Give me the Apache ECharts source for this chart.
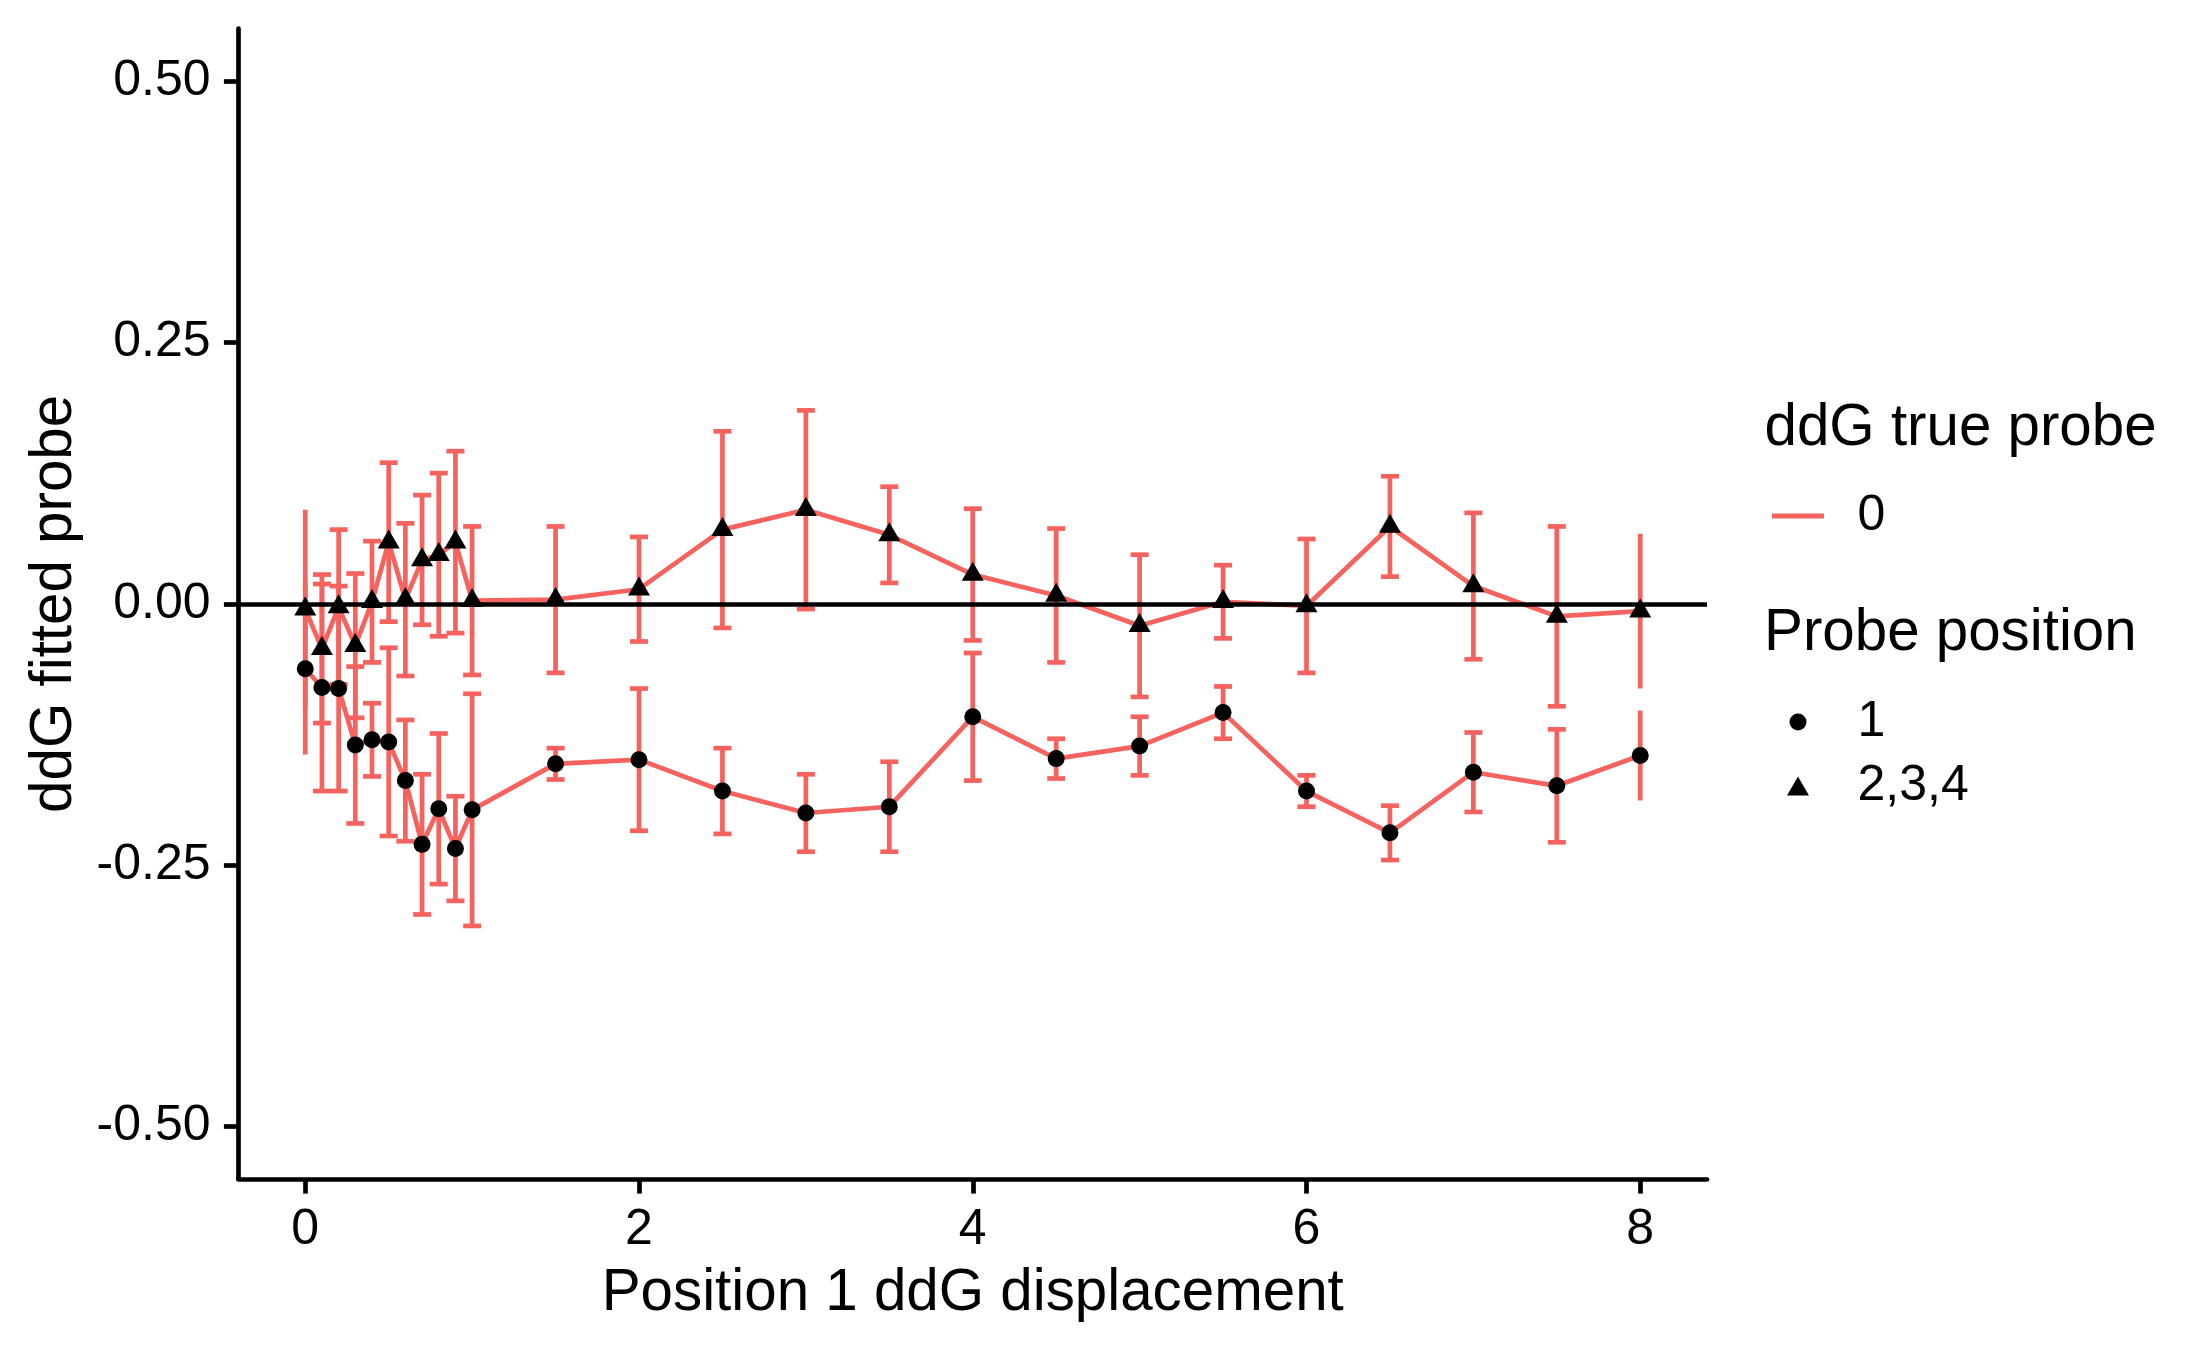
<!DOCTYPE html>
<html><head><meta charset="utf-8">
<script src="https://cdn.jsdelivr.net/npm/echarts@6/dist/echarts.min.js"></script>
<style>html,body{margin:0;padding:0;background:#fff}#c{width:2187px;height:1351px}</style>
</head><body><div id="c"></div>
<script>
// ---- data ----
const displacement = [0, 0.1, 0.2, 0.3, 0.4, 0.5, 0.6, 0.7, 0.8, 0.9, 1.0, 1.5, 2, 2.5, 3, 3.5, 4, 4.5, 5, 5.5, 6, 6.5, 7, 7.5, 8];
// Probe position 1 (circles)
const pos1Mean = [-0.062, -0.080, -0.081, -0.135, -0.130, -0.132, -0.169, -0.230, -0.196, -0.234, -0.197, -0.153, -0.149, -0.179, -0.200, -0.194, -0.108, -0.148, -0.136, -0.104, -0.179, -0.219, -0.161, -0.174, -0.145];
const pos1Err  = [0.082, 0.099, 0.098, 0.075, 0.035, 0.090, 0.058, 0.067, 0.072, 0.050, 0.111, 0.015, 0.068, 0.041, 0.037, 0.043, 0.061, 0.019, 0.028, 0.025, 0.015, 0.026, 0.038, 0.054, 0.043];
// Probe position 2,3,4 (triangles)
const pos234Mean = [-0.005, -0.043, -0.003, -0.040, 0.002, 0.059, 0.004, 0.042, 0.047, 0.059, 0.003, 0.004, 0.014, 0.071, 0.090, 0.066, 0.028, 0.008, -0.021, 0.002, -0.002, 0.074, 0.017, -0.012, -0.007];
const pos234Err  = [0.095, 0.071, 0.074, 0.069, 0.058, 0.076, 0.073, 0.062, 0.078, 0.087, 0.071, 0.070, 0.050, 0.094, 0.095, 0.046, 0.063, 0.064, 0.068, 0.035, 0.064, 0.048, 0.070, 0.086, 0.074];
const xTicks = [0, 2, 4, 6, 8];
const yTicks = [-0.5, -0.25, 0, 0.25, 0.5];
const refLineY = 0;
const trueProbeLevels = ['0'];
const probePositions = ['1', '2,3,4'];

// ---- style ----
const RED = '#F6635F';
const FONT = '"Liberation Sans", Arial, Helvetica, sans-serif';
const LW = 4.7;
const DY = 4.5; // text baseline nudge

const pts = (means) => displacement.map((x, i) => [x, means[i]]);
const bars = (means, errs) => displacement.map((x, i) => [x, means[i] - errs[i], means[i] + errs[i]]);
const xFirst = displacement[0], xLast = displacement[displacement.length - 1];

function renderBar(params, api) {
  const x = api.value(0), lo = api.value(1), hi = api.value(2);
  const top = api.coord([x, hi]);
  const bot = api.coord([x, lo]);
  const style = { stroke: RED, lineWidth: LW, fill: null };
  const children = [{ type: 'line', shape: { x1: top[0], y1: top[1], x2: bot[0], y2: bot[1] }, style }];
  if (x > xFirst && x < xLast) {
    const hw = api.size([0.108, 0])[0] / 2;
    children.push({ type: 'line', shape: { x1: top[0] - hw, y1: top[1], x2: top[0] + hw, y2: top[1] }, style });
    children.push({ type: 'line', shape: { x1: bot[0] - hw, y1: bot[1], x2: bot[0] + hw, y2: bot[1] }, style });
  }
  return { type: 'group', children };
}

const chart = echarts.init(document.getElementById('c'), null, { renderer: 'canvas' });
const axisText = { fontFamily: FONT, fontSize: 50, color: '#000' };
const legendText = (pad) => ({ fontFamily: FONT, fontSize: 50, color: '#000', lineHeight: 50, padding: [0, 0, 0, pad] });

chart.setOption({
  animation: false,
  backgroundColor: '#fff',
  textStyle: { fontFamily: FONT },
  grid: { left: 238.5, right: 480, top: 28.7, bottom: 172, containLabel: false },
  title: [
    { text: 'ddG true probe', left: 1764.5, top: 395.5 + DY, padding: 0,
      textStyle: { fontFamily: FONT, fontSize: 58.3, fontWeight: 'normal', color: '#000', lineHeight: 58.3 } },
    { text: 'Probe position', left: 1764, top: 600.5 + DY, padding: 0,
      textStyle: { fontFamily: FONT, fontSize: 58.3, fontWeight: 'normal', color: '#000', lineHeight: 58.3 } }
  ],
  legend: [
    { data: [{ name: trueProbeLevels[0], icon: 'rect', itemStyle: { color: RED } }], left: 1772, top: 486.5 + DY, padding: 0, orient: 'vertical',
      itemWidth: 52, itemHeight: 5, selectedMode: false, textStyle: legendText(28.5) },
    { data: [probePositions[0]], left: 1789.5, top: 692.5 + DY, padding: 0, orient: 'vertical',
      itemWidth: 17, itemHeight: 17, selectedMode: false, textStyle: legendText(46) },
    { data: [probePositions[1]], left: 1787, top: 756.5 + DY, padding: 0, orient: 'vertical',
      itemWidth: 22, itemHeight: 19, selectedMode: false, textStyle: legendText(43.5) }
  ],
  xAxis: {
    type: 'value', min: -0.4, max: 8.4,
    name: 'Position 1 ddG displacement', nameLocation: 'middle', nameGap: 81.5 + DY,
    nameTextStyle: { fontFamily: FONT, fontSize: 58.3, color: '#000', lineHeight: 58.3 },
    axisLine: { show: true, onZero: false, lineStyle: { color: '#000', width: LW } },
    axisTick: { show: true, length: 14.6, customValues: xTicks, lineStyle: { color: '#000', width: LW } },
    axisLabel: { customValues: xTicks, margin: 21.5 + DY, ...axisText, lineHeight: 50 },
    splitLine: { show: false }
  },
  yAxis: {
    type: 'value', min: -0.55, max: 0.55,
    name: 'ddG fitted probe', nameLocation: 'middle', nameGap: 159 - DY,
    nameTextStyle: { fontFamily: FONT, fontSize: 58.3, color: '#000', lineHeight: 58.3 },
    axisLine: { show: true, onZero: false, lineStyle: { color: '#000', width: LW } },
    axisTick: { show: true, length: 14.6, customValues: yTicks, lineStyle: { color: '#000', width: LW } },
    axisLabel: { customValues: yTicks, margin: 28, ...axisText, formatter: (v) => v.toFixed(2) },
    splitLine: { show: false }
  },
  series: [
    { name: trueProbeLevels[0], type: 'line', data: pts(pos1Mean), symbol: 'none', z: 2,
      lineStyle: { color: RED, width: LW }, itemStyle: { color: RED } },
    { name: trueProbeLevels[0], type: 'line', data: pts(pos234Mean), symbol: 'none', z: 2,
      lineStyle: { color: RED, width: LW }, itemStyle: { color: RED } },
    { name: 'bars1', type: 'custom', renderItem: renderBar, data: bars(pos1Mean, pos1Err), z: 3,
      encode: { x: 0, y: [1, 2] } },
    { name: 'bars234', type: 'custom', renderItem: renderBar, data: bars(pos234Mean, pos234Err), z: 3,
      encode: { x: 0, y: [1, 2] } },
    { name: 'ref', type: 'line', data: [], z: 4,
      markLine: { silent: true, z: 4, symbol: ['none', 'none'], label: { show: false },
        lineStyle: { color: '#000', width: LW, type: 'solid' }, data: [{ yAxis: refLineY }] } },
    { name: probePositions[0], type: 'scatter', data: pts(pos1Mean), symbol: 'circle', symbolSize: 17, z: 6,
      itemStyle: { color: '#000', opacity: 1 } },
    { name: probePositions[1], type: 'scatter', data: pts(pos234Mean), symbol: 'triangle', symbolSize: [22, 19],
      symbolOffset: [0, -3.2], z: 6, itemStyle: { color: '#000', opacity: 1 } }
  ]
});
</script>
</body></html>
